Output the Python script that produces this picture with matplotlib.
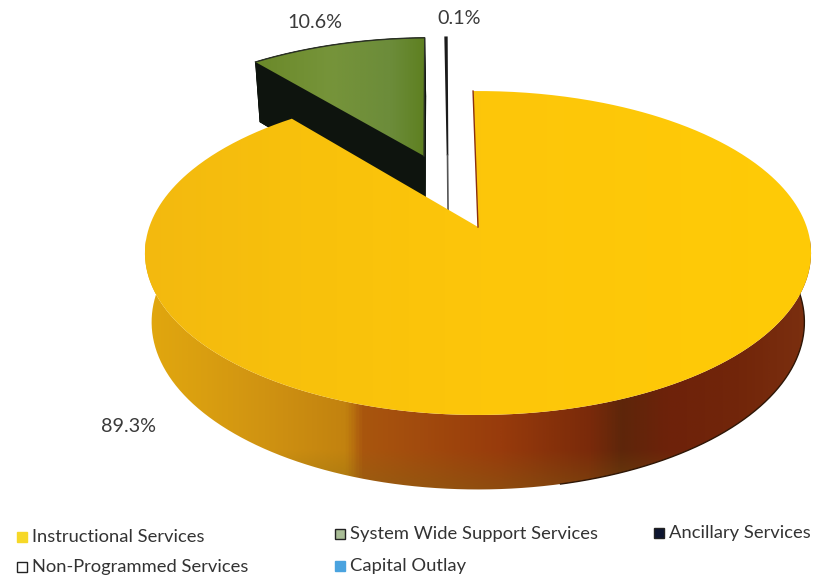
import numpy as np
import matplotlib
matplotlib.use("Agg")
import matplotlib.pyplot as plt
from matplotlib.colors import LinearSegmentedColormap, to_rgb
from matplotlib.patches import PathPatch, Polygon, Rectangle
from matplotlib.path import Path

plt.rcParams['font.family'] = ['Lato', 'DejaVu Sans']

# budget shares in percent
categories = ["Instructional Services", "System Wide Support Services", "Ancillary Services",
              "Non-Programmed Services", "Capital Outlay"]
shares = [89.3, 10.6, 0.0, 0.1, 0.0]
value_labels = ["89.3%", "10.6%", "0.1%"]
legend_colors = ["#f6d828", "#a9bd96", "#0d1530", "#ffffff", "#4aa3df"]

# perspective of the pie, pixels
CX, CY = 478, 227
FOCAL, TILT, DIST = 2048, 983, 6.23
START = -1.0


def project(x, y, base=False):
    """Plane coordinates (unit radius) to pixels, top face or bottom face"""
    den = DIST + y
    u = FOCAL * x / den
    v = -TILT * y / den
    if base:
        return CX + u * 0.98, CY + v + (68 - 6.5 * y)
    return CX + u, CY + v


def slice_outline(start, stop, off=(0, 0), n=240):
    """Apex followed by the arc, angles in degrees clockwise from the back"""
    t = np.radians(np.linspace(start, stop, n))
    x = np.concatenate([[0], np.sin(t)]) + off[0]
    y = np.concatenate([[0], np.cos(t)]) + off[1]
    return x, y


def gradient(ax, patch, stops, y0=0, y1=580, bottom=None):
    """Fill a patch with a horizontal gradient, optional blend towards the lower edge"""
    x0, x1 = stops[0][0], stops[-1][0]
    cmap = LinearSegmentedColormap.from_list("g", [((x - x0) / (x1 - x0), c) for x, c in stops])
    img = cmap(np.linspace(0, 1, 700))[:, :3][None, :, :].repeat(200, axis=0)
    if bottom is not None:
        color, start, amount = bottom
        ys = np.linspace(y0, y1, 200)
        k = np.clip((ys - start) / (y1 - start), 0, 1)[:, None, None] * amount
        img = img * (1 - k) + np.array(to_rgb(color)) * k
    im = ax.imshow(img, extent=(x0, x1, y1, y0), aspect="auto", zorder=patch.get_zorder(), interpolation="bilinear")
    ax.add_patch(patch)
    patch.set_visible(False)
    im.set_clip_path(patch.get_path(), patch.get_transform())


fig = plt.figure(figsize=(8.13, 5.8), dpi=100)
ax = fig.add_axes([0, 0, 1, 1])

# slice angles from the shares
yellow_end = START + shares[0] * 3.6
green_end = yellow_end + shares[1] * 3.6
white_end = green_end + shares[3] * 3.6

# non-programmed sliver, pulled out behind the pie, its side runs down from the apex
wx, wy = slice_outline(green_end, white_end, off=(-0.10, 0.49), n=4)
ax.add_patch(Polygon(np.column_stack(project(wx, wy)), closed=True, fc="white", ec="#1b1b1b", lw=1.2, zorder=1))
wb_u, wb_v = project(wx[0], wy[0], base=True)
wt_u, wt_v = project(wx[0], wy[0])
ax.plot([wt_u, wb_u], [wt_v, wb_v], color="#555555", lw=1.2, zorder=1)

# system wide support slice with its dark side
gx, gy = slice_outline(yellow_end, green_end, off=(-0.177, 0.485))
top_u, top_v = project(gx, gy)
base_u, base_v = project(gx, gy, base=True)
ax.add_patch(Polygon(np.column_stack([base_u, base_v]), closed=True, fc="#0e140e", ec="#0e140e", lw=0.5, zorder=2))
for i in range(len(top_u)):
    j = (i + 1) % len(top_u)
    ax.add_patch(Polygon([(top_u[i], top_v[i]), (top_u[j], top_v[j]), (base_u[j], base_v[j]), (base_u[i], base_v[i])],
                         closed=True, fc="#0e140e", ec="#0e140e", lw=0.5, zorder=2))
green_path = Path(np.column_stack([top_u, top_v]))
gradient(ax, PathPatch(green_path, zorder=3, transform=ax.transData),
         [(250, "#6a8828"), (330, "#76943a"), (390, "#6c8c3a"), (430, "#5c7e1c")], 30, 170)
ax.plot(np.append(top_u[1:], top_u[0]), np.append(top_v[1:], top_v[0]), color="#2a3024", lw=1.0, zorder=4)

# outer wall of the instructional slice
yx, yy = slice_outline(START, yellow_end, n=600)
top_u, top_v = project(yx, yy)
base_u, base_v = project(yx, yy, base=True)
wall = np.column_stack([np.concatenate([top_u[1:], base_u[:0:-1]]), np.concatenate([top_v[1:], base_v[:0:-1]])])
gradient(ax, PathPatch(Path(wall), zorder=5, transform=ax.transData),
         [(140, "#e2a80e"), (200, "#da9f10"), (263, "#d09312"), (345, "#c2820f"), (362, "#a9560e"), (500, "#983b0c"),
          (590, "#7a2a0a"), (622, "#5e260a"), (670, "#6e220a"), (740, "#72260a"), (815, "#7c3010")],
         240, 495, bottom=("#7d6a14", 450, 0.4))
dark = base_u[1:] > 560
ax.plot(base_u[1:][dark], base_v[1:][dark], color="#2e1606", lw=1.0, zorder=5.5)

# top face
top_path = Path(np.column_stack([top_u, top_v]))
gradient(ax, PathPatch(top_path, zorder=6, transform=ax.transData),
         [(140, "#f3b90f"), (300, "#f8c10c"), (480, "#fdc60a"), (815, "#ffcb06")], 85, 420)
ax.plot([CX, top_u[1]], [CY, top_v[1]], color="#8a2f10", lw=1.0, zorder=7)

# value labels
label_pos = [(128, 427), (315, 22), (459, 18)]
for txt, (lx, ly) in zip(value_labels, label_pos):
    ax.text(lx, ly, txt, ha="center", va="center", fontsize=14.2, color="#3a3a3a", zorder=8)

# legend, two rows
legend_pos = [(17, 537), (335, 534), (654, 533), (17, 567), (335, 566)]
for name, col, (lx, ly) in zip(categories, legend_colors, legend_pos):
    edge = col if col in ("#f6d828", "#4aa3df") else "#222222"
    ax.add_patch(Rectangle((lx, ly - 5), 10, 10, fc=col, ec=edge, lw=1.0, zorder=8))
    ax.text(lx + 15, ly, name, ha="left", va="center", fontsize=13.2, color="#333333", zorder=8)

ax.set_xlim(0, 813)
ax.set_ylim(580, 0)
ax.axis("off")
fig.savefig("out.png", dpi=100, facecolor="white")
